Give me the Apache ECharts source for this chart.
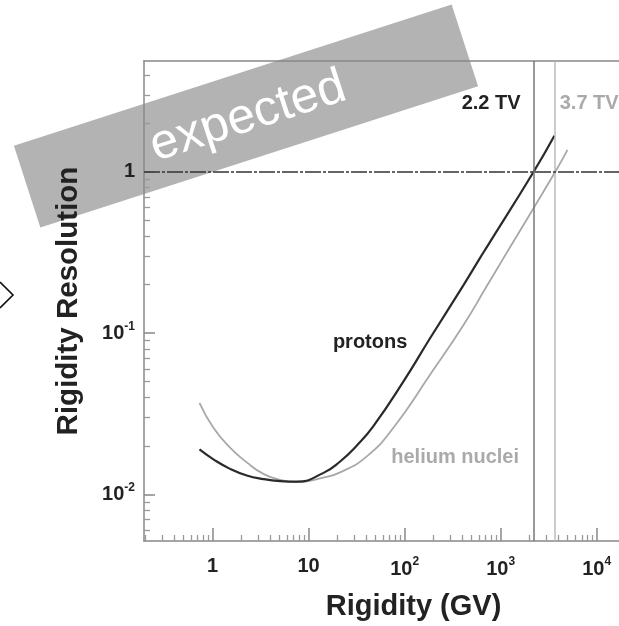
<!DOCTYPE html>
<html>
<head>
<meta charset="utf-8">
<script src="https://cdn.jsdelivr.net/npm/echarts@6/dist/echarts.min.js"></script>
<style>
  html, body { margin: 0; padding: 0; background: #fff; }
  #chart { width: 619px; height: 626px; }
</style>
</head>
<body>
<div id="chart"></div>
<script>
// rigidity (GV) and resolution
const protonR = [0.73, 1.02, 1.52, 2.27, 3.38, 5.05, 7.54, 14.3, 21.3, 31.8, 47.3, 100, 184, 409, 611, 718, 2200, 3630]
const protonRes = [0.0190, 0.0165, 0.0144, 0.0131, 0.01245, 0.0121, 0.0120, 0.0136, 0.0160, 0.0201, 0.0265, 0.0515, 0.093, 0.198, 0.293, 0.342, 1.0, 1.68]
const heliumR = [0.73, 1.02, 1.52, 2.27, 3.38, 5.05, 7.54, 14.2, 21.3, 40.4, 76.4, 184, 409, 718, 1030, 3700, 4970]
const heliumRes = [0.0370, 0.0259, 0.0195, 0.0158, 0.0134, 0.0123, 0.0119, 0.0127, 0.0137, 0.0172, 0.0259, 0.0552, 0.112, 0.196, 0.281, 1.0, 1.37]

// max rigidity lines (GV)
const maxProton = 2200
const maxHelium = 3700

// ticks
const xMajor = [1, 10, 100, 1000, 10000]
const xMinor = [0.2, 0.3, 0.4, 0.5, 0.6, 0.7, 0.8, 0.9, 2, 3, 4, 5, 6, 7, 8, 9,
  20, 30, 40, 50, 60, 70, 80, 90, 200, 300, 400, 500, 600, 700, 800, 900,
  2000, 3000, 4000, 5000, 6000, 7000, 8000, 9000]
const yMajor = [0.01, 0.1, 1]
const yMinor = [0.006, 0.007, 0.008, 0.009, 0.02, 0.03, 0.04, 0.05, 0.06, 0.07, 0.08, 0.09,
  0.2, 0.3, 0.4, 0.5, 0.6, 0.7, 0.8, 0.9, 2, 3, 4]

const xMin = 0.193, xMax = 17100
const yMin = 0.00514, yMax = 4.88

const font = '"Liberation Sans", Arial, sans-serif'

function powLabel(v) {
  const e = Math.round(Math.log10(v))
  if (e === 0) return '{b|1}'
  if (e === 1) return '{b|10}'
  return '{b|10}{s|' + e + '}'
}
const labelRich = {
  b: {fontSize: 20, fontWeight: 'bold', color: '#222', fontFamily: font},
  s: {fontSize: 12, fontWeight: 'bold', color: '#222', fontFamily: font, padding: [0, 0, 14, 0]}
}
const axisGrey = '#888'
const rot = 17.9 * Math.PI / 180

const option = {
  backgroundColor: '#fff',
  animation: false,
  grid: {left: 144, right: 0, top: 61, bottom: 82},
  xAxis: [
    {
      type: 'log', min: xMin, max: xMax,
      name: 'Rigidity (GV)', nameLocation: 'middle', nameGap: 51,
      nameTextStyle: {fontSize: 29, fontWeight: 'bold', color: '#222', fontFamily: font, padding: [0, 0, 0, 64]},
      axisLine: {lineStyle: {color: axisGrey, width: 1.5}},
      axisTick: {inside: true, length: 13, customValues: xMajor, lineStyle: {color: axisGrey, width: 1.5}},
      axisLabel: {customValues: xMajor, formatter: powLabel, rich: labelRich, margin: 15},
      splitLine: {show: false}
    },
    {
      type: 'log', min: xMin, max: xMax, position: 'bottom',
      axisLine: {show: false},
      axisTick: {inside: true, length: 6, customValues: xMinor, lineStyle: {color: '#999', width: 1.3}},
      axisLabel: {show: false},
      splitLine: {show: false}
    },
    {
      type: 'log', min: xMin, max: xMax, position: 'top',
      axisLine: {show: true, lineStyle: {color: axisGrey, width: 1.5}},
      axisTick: {show: false},
      axisLabel: {show: false},
      splitLine: {show: false}
    }
  ],
  yAxis: [
    {
      type: 'log', min: yMin, max: yMax,
      name: 'Rigidity Resolution', nameLocation: 'middle', nameGap: 60,
      nameTextStyle: {fontSize: 29.5, fontWeight: 'bold', color: '#222', fontFamily: font},
      axisLine: {show: true, lineStyle: {color: axisGrey, width: 1.5}},
      axisTick: {inside: true, length: 11, customValues: yMajor, lineStyle: {color: axisGrey, width: 1.5}},
      axisLabel: {customValues: yMajor, formatter: powLabel, rich: labelRich, margin: 9},
      splitLine: {show: false}
    },
    {
      type: 'log', min: yMin, max: yMax, position: 'left',
      axisLine: {show: false},
      axisTick: {inside: true, length: 6, customValues: yMinor, lineStyle: {color: '#999', width: 1.3}},
      axisLabel: {show: false},
      splitLine: {show: false}
    }
  ],
  series: [
    {
      name: 'helium nuclei', type: 'line', smooth: 0.5, showSymbol: false,
      data: heliumR.map((r, i) => [r, heliumRes[i]]),
      lineStyle: {color: '#a8a8a8', width: 1.8},
      markLine: {
        silent: true, symbol: 'none', label: {show: false},
        data: [{xAxis: maxHelium, lineStyle: {color: '#bbb', width: 1.5, type: 'solid'}}]
      },
      markPoint: {
        symbol: 'circle', symbolSize: 0,
        label: {show: true, position: 'inside', fontSize: 20, fontWeight: 'bold', color: '#aaa', fontFamily: font, formatter: p => p.name},
        data: [
          {name: 'helium nuclei', coord: [336, 0.0169]},
          {name: '3.7 TV', coord: [8360, 2.65]}
        ]
      }
    },
    {
      name: 'protons', type: 'line', smooth: 0.5, showSymbol: false,
      data: protonR.map((r, i) => [r, protonRes[i]]),
      lineStyle: {color: '#2a2a2a', width: 2.2},
      markLine: {
        silent: true, symbol: 'none', label: {show: false},
        data: [
          {xAxis: maxProton, lineStyle: {color: '#777', width: 1.5, type: 'solid'}},
          {yAxis: 1, lineStyle: {color: '#333', width: 1.5, type: [16, 2, 3, 2]}}
        ]
      },
      markPoint: {
        symbol: 'circle', symbolSize: 0,
        label: {show: true, position: 'inside', fontSize: 20, fontWeight: 'bold', color: '#222', fontFamily: font, formatter: p => p.name},
        data: [
          {name: 'protons', coord: [43.7, 0.0879]},
          {name: '2.2 TV', coord: [796, 2.65]}
        ]
      }
    }
  ],
  graphic: [
    {
      type: 'rect', x: 246, y: 116, rotation: rot, z: -10,
      shape: {x: -230, y: -43, width: 460, height: 86},
      style: {fill: '#b3b3b3'}
    },
    {
      type: 'text', x: 248, y: 117, rotation: rot, z: -9,
      style: {text: 'expected', fill: '#fff', font: '50px ' + font, align: 'center', verticalAlign: 'middle', textAlign: 'center', textVerticalAlign: 'middle'}
    },
    {
      type: 'polyline', z: 101,
      shape: {points: [[0, 282], [13, 295], [0, 308]]},
      style: {stroke: '#111', lineWidth: 1.6, fill: null}
    }
  ]
}

const chart = echarts.init(document.getElementById('chart'))
chart.setOption(option)
</script>
</body>
</html>
